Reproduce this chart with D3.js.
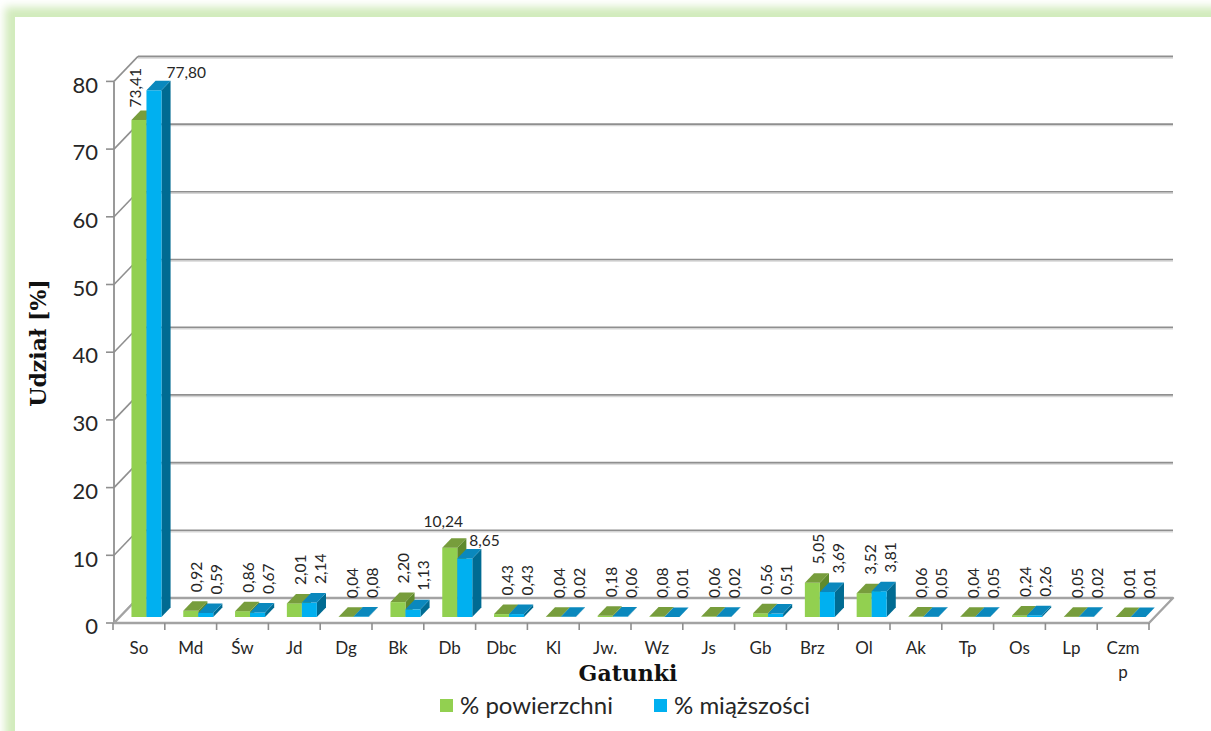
<!DOCTYPE html>
<html>
<head>
<meta charset="utf-8">
<script src="https://cdn.jsdelivr.net/npm/d3@7"></script>
<style>
  html,body{margin:0;padding:0;background:#fff;}
  svg{display:block;}
</style>
</head>
<body>
<svg id="chart" width="1211" height="731"></svg>
<script>
// ---------------- DATA ----------------
const categories = ["So","Md","Św","Jd","Dg","Bk","Db","Dbc","Kl","Jw.","Wz","Js","Gb","Brz","Ol","Ak","Tp","Os","Lp","Czmp"];
const seriesNames = ["% powierzchni","% miąższości"];
const powierzchni = [73.41,0.92,0.86,2.01,0.04,2.20,10.24,0.43,0.04,0.18,0.08,0.06,0.56,5.05,3.52,0.06,0.04,0.24,0.05,0.01];
const miazszosci  = [77.80,0.59,0.67,2.14,0.08,1.13,8.65,0.43,0.02,0.06,0.01,0.02,0.51,3.69,3.81,0.05,0.05,0.26,0.02,0.01];
const yTicks = [0,10,20,30,40,50,60,70,80];
const yTitle = "Udział [%]";
const xTitle = "Gatunki";

// ---------------- STYLE ----------------
const colors = [
  {front:"#92d050", top:"#779d3c", side:"#5f8a2c"},
  {front:"#00b0f0", top:"#0a88bd", side:"#006b92"}
];
// labels Excel drew horizontally (category|series -> placement)
const horizontalLabels = {"So|1":"right","Db|0":"center","Db|1":"rightIn"};
// rotated-label nudges (dx, gap) for special cases
const rotatedNudge = {"So|0":{dx:-3, gap:3}};

const svg = d3.select("#chart");

// glow border
const defs = svg.append("defs");
const f = defs.append("filter").attr("id","glow").attr("x","-5%").attr("y","-5%").attr("width","110%").attr("height","110%");
f.append("feGaussianBlur").attr("stdDeviation",4);
svg.append("rect").attr("x",5).attr("y",7).attr("width",1300).attr("height",900)
   .attr("fill","#d2ebbc").attr("filter","url(#glow)");
svg.append("rect").attr("x",15).attr("y",17).attr("width",1300).attr("height",900).attr("fill","#fff");

// ---------------- GEOMETRY ----------------
const fx0 = 113, fx1 = 1149;       // front floor edge
const DX = 24, DY = 25;            // depth vector (right, up)
const bd0 = 0.24, bd1 = 0.62;      // bar depth span
const y = d3.scaleLinear().domain([0,80]).range([623, 81.4]);
const x0 = d3.scaleBand().domain(categories).range([fx0, fx1]).padding(0);
const x1 = d3.scaleBand().domain([0,1]).range([12.7, 42.7]).padding(0);

const gridColor = "#8f8f8f";
const g = svg.append("g");

// back wall grid lines + left wall diagonals
yTicks.forEach(t => {
  const yy = y(t);
  if (t > 0) {
    g.append("line").attr("x1",fx0+1+DX).attr("x2",fx1+DX).attr("y1",yy-DY+1.5).attr("y2",yy-DY+1.5)
      .attr("stroke","#d6d6d6").attr("stroke-width",1.5);
    g.append("line").attr("x1",fx0+1+DX).attr("x2",fx1+DX).attr("y1",yy-DY).attr("y2",yy-DY)
      .attr("stroke",gridColor).attr("stroke-width",1.6);
  }
  g.append("line").attr("x1",fx0+1).attr("x2",fx0+1+DX).attr("y1",yy).attr("y2",yy-DY)
    .attr("stroke",gridColor).attr("stroke-width",1.6);
  g.append("line").attr("x1",fx0-7).attr("x2",fx0+1).attr("y1",yy).attr("y2",yy)
    .attr("stroke",gridColor).attr("stroke-width",1.6);
  g.append("text").attr("x",98).attr("y",yy+3.5).attr("dy","0.35em")
    .attr("text-anchor","end").attr("font-family","Lato, 'Open Sans', sans-serif")
    .attr("font-size",22).attr("fill","#262626").text(t);
});
g.append("line").attr("x1",fx0+1).attr("x2",fx0+1).attr("y1",y(0)).attr("y2",y(80))
  .attr("stroke",gridColor).attr("stroke-width",1.8);

// floor
const floorPts = [[fx0+1,y(0)],[fx1,y(0)],[fx1+DX,y(0)-DY],[fx0+1+DX,y(0)-DY]];
g.append("polygon").attr("points",floorPts.map(p=>p.join(",")).join(" "))
  .attr("fill","#fff").attr("stroke","#a3a3a3").attr("stroke-width",2.4).attr("stroke-linejoin","round");

// category ticks
categories.map(c => x0(c)).concat([fx1]).forEach(tx => {
  g.append("line").attr("x1",tx).attr("x2",tx).attr("y1",y(0)).attr("y2",y(0)+7)
    .attr("stroke",gridColor).attr("stroke-width",1.6);
});

// ---------------- BARS ----------------
const data = categories.map((c,i) => ({c, vals:[powierzchni[i], miazszosci[i]]}));
const ddx = (bd1-bd0)*DX, ddy = (bd1-bd0)*DY;
function barGeom(c, s, v) {
  const xl = x0(c) + x1(s) + bd0*DX;
  const xr = xl + x1.bandwidth();
  const yb = y(0) - bd0*DY;
  const yt = y(v) - bd0*DY;
  return {xl, xr, yb, yt};
}
const pts = a => a.map(p=>p.join(",")).join(" ");
const bars = svg.append("g");
data.forEach(d => {
  d.vals.forEach((v, s) => {
    const {xl, xr, yb, yt} = barGeom(d.c, s, v);
    const col = colors[s];
    const bg = bars.append("g");
    bg.append("polygon").attr("points",pts([[xr,yb],[xr,yt],[xr+ddx,yt-ddy],[xr+ddx,yb-ddy]])).attr("fill",col.side);
    bg.append("rect").attr("x",xl).attr("y",yt).attr("width",xr-xl).attr("height",Math.max(0,yb-yt)).attr("fill",col.front);
    bg.append("polygon").attr("points",pts([[xl,yt],[xr,yt],[xr+ddx,yt-ddy],[xl+ddx,yt-ddy]])).attr("fill",col.top);
  });
});

// ---------------- VALUE LABELS ----------------
const fmt = v => d3.format(".2f")(v).replace(".", ",");
const labels = svg.append("g").attr("font-family","Lato, 'Open Sans', sans-serif")
  .attr("font-size",15.5).attr("fill","#262626");
data.forEach(d => {
  d.vals.forEach((v, s) => {
    const {xl, xr, yt} = barGeom(d.c, s, v);
    const backTop = yt - ddy;
    const key = d.c + "|" + s;
    const h = horizontalLabels[key];
    if (h === "right") {
      labels.append("text").attr("x", xr+5).attr("y", backTop-3).text(fmt(v));
    } else if (h === "center") {
      labels.append("text").attr("x", (xl+xr)/2-6.5).attr("y", backTop-11).attr("text-anchor","middle").text(fmt(v));
    } else if (h === "rightIn") {
      labels.append("text").attr("x", xr-3).attr("y", backTop-3).text(fmt(v));
    } else {
      const n = rotatedNudge[key] || {dx:(s===0 ? 6 : 11), gap:9};
      const cx = (xl+xr)/2 + n.dx;
      labels.append("text")
        .attr("transform", `translate(${cx},${backTop-n.gap}) rotate(-90)`)
        .attr("dy","0.35em").text(fmt(v));
    }
  });
});

// ---------------- CATEGORY LABELS ----------------
const cat = svg.append("g").attr("font-family","Lato, 'Open Sans', sans-serif")
  .attr("font-size",17).attr("fill","#262626").attr("text-anchor","middle");
categories.forEach(c => {
  const cx = x0(c) + x0.bandwidth()/2;
  const t = cat.append("text").attr("x",cx).attr("y",654);
  t.text(c);
  const maxW = 37;
  if (t.node().getComputedTextLength() > maxW) {
    const lines = []; let cur = "";
    t.text("");
    const probe = cat.append("text").attr("visibility","hidden");
    for (const ch of c) {
      probe.text(cur + ch);
      if (probe.node().getComputedTextLength() > maxW && cur) { lines.push(cur); cur = ch; }
      else cur += ch;
    }
    lines.push(cur); probe.remove();
    lines.forEach((ln, k) => t.append("tspan").attr("x",cx).attr("dy", k===0 ? 0 : 24).text(ln));
  }
});

// ---------------- TITLES ----------------
svg.append("text").attr("transform","translate(38,343) rotate(-90)")
  .attr("text-anchor","middle").attr("dy","0.35em")
  .attr("font-family","'DejaVu Serif', serif").attr("font-weight","bold").attr("font-size",22)
  .attr("fill","#111").text(yTitle);
svg.append("text").attr("x",628).attr("y",681).attr("text-anchor","middle")
  .attr("font-family","'DejaVu Serif', serif").attr("font-weight","bold").attr("font-size",22)
  .attr("fill","#111").text(xTitle);

// ---------------- LEGEND ----------------
const legend = svg.append("g").attr("font-family","Lato, 'Open Sans', sans-serif").attr("font-size",24).attr("fill","#262626");
const legendX = [440, 654];
seriesNames.forEach((n, s) => {
  legend.append("rect").attr("x",legendX[s]).attr("y",699).attr("width",13).attr("height",13).attr("fill",colors[s].front);
  legend.append("text").attr("x",legendX[s]+20).attr("y",714).text(n);
});
</script>
</body>
</html>
